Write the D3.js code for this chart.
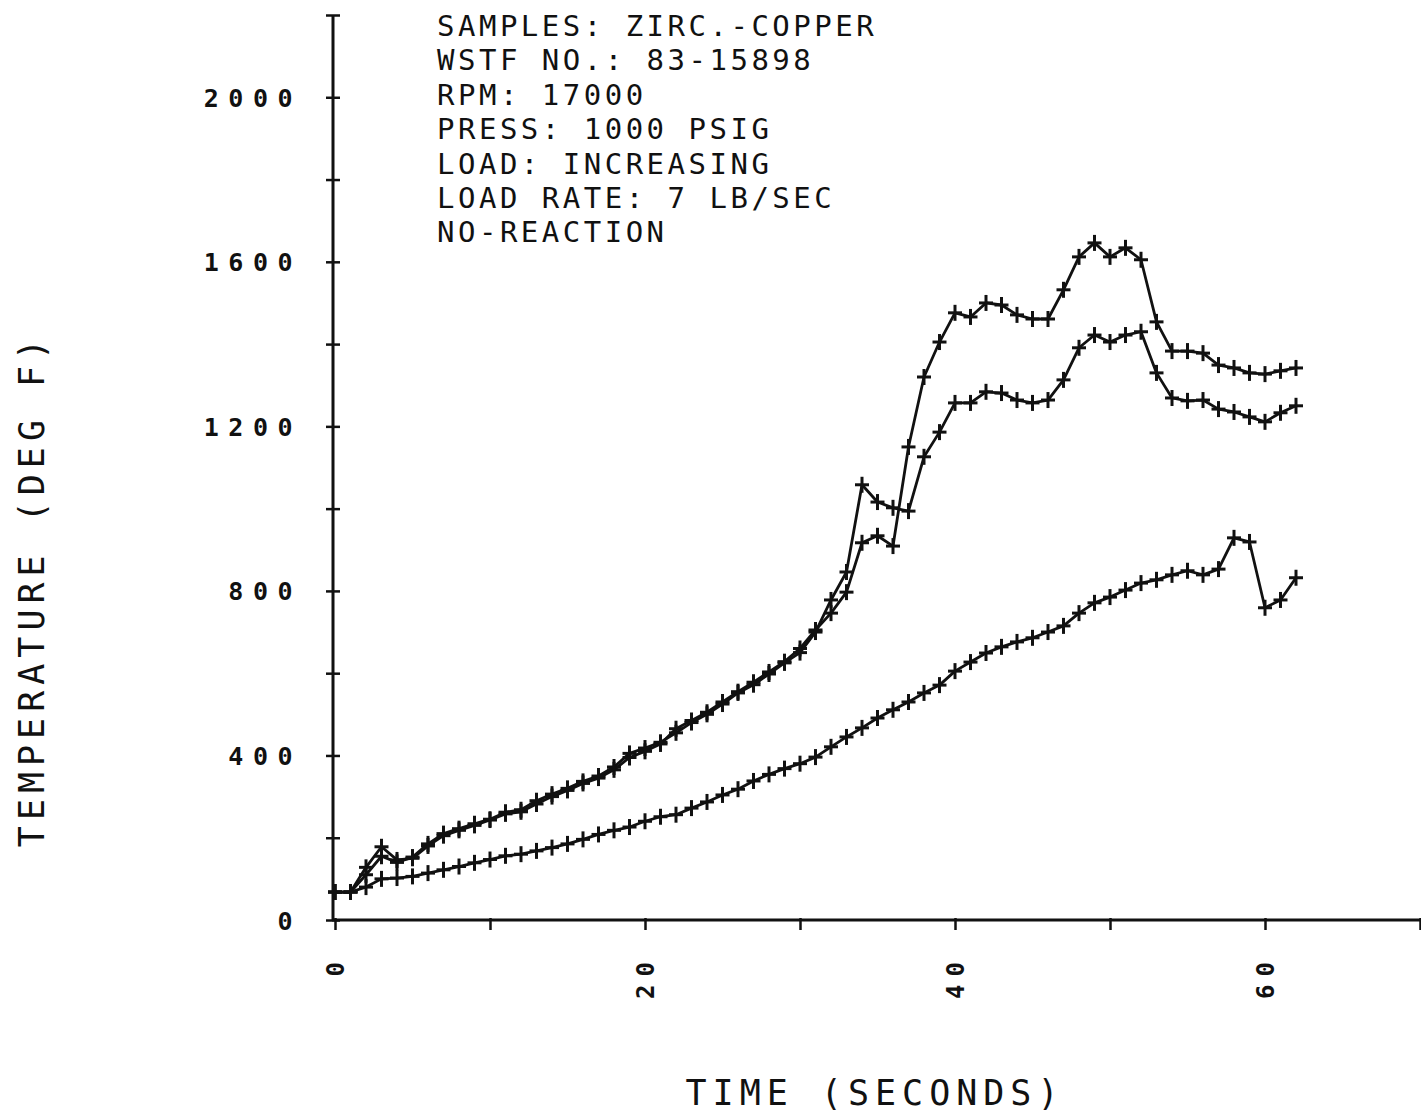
<!DOCTYPE html>
<html>
<head>
<meta charset="utf-8">
<script src="https://cdn.jsdelivr.net/npm/d3@7"></script>
<style>
  html, body { margin: 0; padding: 0; background: #fff; }
  svg { display: block; }
  text { font-family: "DejaVu Sans Mono", monospace; fill: #111; }
</style>
</head>
<body>
<svg id="chart" width="1421" height="1112"></svg>
<script>
// ---------- data ----------
const times = d3.range(0, 63); // seconds 0..62
const seriesA = [68, 68, 128, 178, 146, 150, 180, 205, 218, 230, 243, 258, 263, 282, 300, 315, 332, 345, 365, 395,
  410, 428, 465, 485, 505, 530, 555, 578, 603, 628, 660, 705, 746, 797, 917, 934, 909, 1150, 1320, 1405,
  1476, 1466, 1500, 1495, 1471, 1461, 1461, 1532, 1612, 1646, 1612, 1634, 1605, 1454, 1383, 1383, 1378, 1349, 1342, 1330,
  1327, 1335, 1342];
const seriesB = [68, 68, 110, 155, 140, 153, 185, 210, 222, 234, 245, 262, 268, 290, 306, 320, 337, 350, 372, 405,
  418, 432, 455, 480, 500, 525, 552, 572, 598, 625, 650, 700, 778, 846, 1058, 1016, 1002, 994, 1126, 1186,
  1257, 1257, 1284, 1281, 1264, 1257, 1264, 1313, 1391, 1422, 1405, 1422, 1430, 1330, 1269, 1262, 1264, 1242, 1235, 1223,
  1211, 1233, 1250];
const seriesC = [68, 68, 80, 100, 102, 106, 114, 122, 130, 139, 147, 156, 160, 168, 176, 185, 196, 208, 218, 226,
  240, 251, 256, 272, 287, 304, 318, 338, 354, 368, 380, 396, 421, 445, 467, 491, 511, 530, 552, 571,
  605, 627, 649, 664, 676, 686, 700, 715, 746, 771, 785, 802, 819, 827, 839, 849, 839, 853, 929, 919,
  759, 778, 832];
const seriesList = [seriesA, seriesB, seriesC];

const xTickValues = [0, 10, 20, 30, 40, 50, 60, 70];
const xTickLabels = ["0", "", "20", "", "40", "", "60", ""];
const yTickValues = [0, 200, 400, 600, 800, 1000, 1200, 1400, 1600, 1800, 2000, 2200];
const yTickLabels = ["0", "", "400", "", "800", "", "1200", "", "1600", "", "2000", ""];

const annotationLines = [
  "SAMPLES: ZIRC.-COPPER",
  "WSTF NO.: 83-15898",
  "RPM: 17000",
  "PRESS: 1000 PSIG",
  "LOAD: INCREASING",
  "LOAD RATE: 7 LB/SEC",
  "NO-REACTION"
];
const xTitle = "TIME (SECONDS)";
const yTitle = "TEMPERATURE (DEG F)";

// ---------- layout ----------
const svg = d3.select("#chart");
const x = d3.scaleLinear().domain([0, 70]).range([335, 1420]);
const y = d3.scaleLinear().domain([0, 2200]).range([920, 15]);
const ink = "#111";

// axes lines
svg.append("line").attr("x1", x(0) - 2).attr("x2", x(0) - 2).attr("y1", y(2200)).attr("y2", y(0) + 1)
  .attr("stroke", ink).attr("stroke-width", 3);
svg.append("line").attr("x1", x(0) - 3).attr("x2", 1421).attr("y1", y(0)).attr("y2", y(0))
  .attr("stroke", ink).attr("stroke-width", 3);

// y ticks (crossing the axis)
const yAxis = d3.axisLeft(y).tickValues(yTickValues).tickSize(0)
  .tickFormat((d, i) => yTickLabels[i]);
const gy = svg.append("g").attr("transform", `translate(${x(0) - 2},0)`).call(yAxis);
gy.select(".domain").remove();
gy.selectAll(".tick").append("line").attr("x1", -7).attr("x2", 7)
  .attr("stroke", ink).attr("stroke-width", 2.5);
gy.selectAll(".tick text")
  .attr("x", -31).attr("dy", "0.36em")
  .style("font-size", "25px").style("font-weight", "bold")
  .style("letter-spacing", "9.5px").attr("fill", ink);

// x ticks
const xAxis = d3.axisBottom(x).tickValues(xTickValues).tickSize(0)
  .tickFormat((d, i) => xTickLabels[i]);
const gx = svg.append("g").attr("transform", `translate(0,${y(0)})`).call(xAxis);
gx.select(".domain").remove();
gx.selectAll(".tick").append("line").attr("y1", -2).attr("y2", 10)
  .attr("stroke", ink).attr("stroke-width", 2.5);
gx.selectAll(".tick text")
  .attr("transform", "rotate(-90)")
  .attr("x", -34).attr("y", 0).attr("dy", "0.36em")
  .attr("text-anchor", "end")
  .style("font-size", "24px").style("font-weight", "bold")
  .style("letter-spacing", "8px").attr("fill", ink);

// series lines + "+" markers
const line = d3.line().x((d, i) => x(times[i])).y(d => y(d));
seriesList.forEach(s => {
  svg.append("path").datum(s).attr("d", line)
    .attr("fill", "none").attr("stroke", ink).attr("stroke-width", 2.8)
    .attr("stroke-linejoin", "round");
  const g = svg.append("g");
  g.selectAll("g.mk").data(s).join("g").attr("class", "mk")
    .attr("transform", (d, i) => `translate(${x(times[i])},${y(d)})`)
    .each(function () {
      const m = d3.select(this);
      m.append("line").attr("x1", -7).attr("x2", 7).attr("y1", 0).attr("y2", 0)
        .attr("stroke", ink).attr("stroke-width", 3);
      m.append("line").attr("x1", 0).attr("x2", 0).attr("y1", -8).attr("y2", 8)
        .attr("stroke", ink).attr("stroke-width", 3);
    });
});

// annotation block
svg.append("g").selectAll("text").data(annotationLines).join("text")
  .attr("x", 437).attr("y", (d, i) => 36 + i * 34.4)
  .style("font-size", "29px").style("letter-spacing", "3.5px")
  .text(d => d);

// axis titles
svg.append("text").attr("x", 875).attr("y", 1105).attr("text-anchor", "middle")
  .style("font-size", "35px").style("letter-spacing", "6px").text(xTitle);
svg.append("text").attr("transform", "translate(44,590) rotate(-90)").attr("text-anchor", "middle")
  .style("font-size", "35px").style("letter-spacing", "6px").text(yTitle);
</script>
</body>
</html>
